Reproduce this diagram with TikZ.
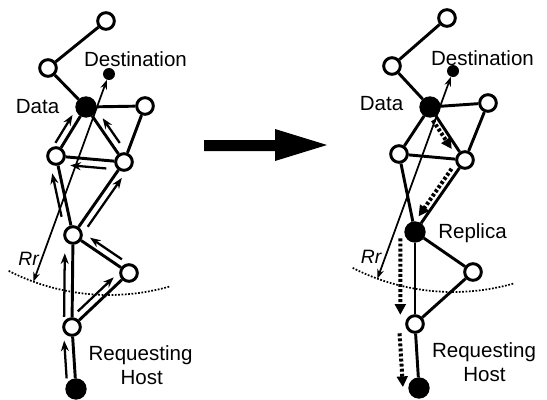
\documentclass[tikz,border=0pt]{standalone}
\usepackage{fontspec}
\setmainfont{Liberation Sans}
\usetikzlibrary{calc,arrows.meta}
\newcommand\flowar[6]{\draw[#6] ($(#1)!#4!(#2)!#3!90:(#2)$) -- ($(#1)!#5!(#2)!#3!90:(#2)$);}
\begin{document}
\begin{tikzpicture}[x=0.75pt,y=-0.75pt,
  onode/.style={circle,draw,line width=2.2pt,fill=white,minimum size=12.5pt,inner sep=0pt},
  fnode/.style={circle,draw,fill=black,line width=1pt,minimum size=15pt,inner sep=0pt},
  dnode/.style={circle,fill=black,minimum size=9pt,inner sep=0pt},
  link/.style={line width=2.2pt},
  flow/.style={line width=1.7pt,-{Stealth[length=8pt,width=6pt]}},
  dflow/.style={line width=3pt,dash pattern=on 2.2pt off 1.6pt,-{Triangle[length=8pt,width=8pt]}},
  rr/.style={line width=1.3pt,{Stealth[length=7pt,width=5pt]}-{Stealth[length=7pt,width=5pt]}},
  rarc/.style={line width=1.3pt,dash pattern=on 1.3pt off 1.2pt},
  lbl/.style={font=\fontsize{15.4}{18}\selectfont,anchor=base,inner sep=0pt},
  ilbl/.style={font=\fontsize{14.5}{16}\selectfont\itshape,anchor=base,inner sep=0pt}
]
\useasboundingbox (0,0) rectangle (547,400);
% ---------- left graph ----------
\node[onode] (T1) at (106,21) {};
\node[onode] (A1) at (48,68) {};
\node[dnode] (D1) at (109,74) {};
\node[fnode] (Da1) at (86,107) {};
\node[onode] (R11) at (145,106) {};
\node[onode] (L21) at (56,156) {};
\node[onode] (R21) at (124,162) {};
\node[onode] (M1) at (73,235) {};
\node[onode] (N1) at (129,273) {};
\node[onode] (B1) at (72,327) {};
\node[fnode] (H1) at (76,389) {};
\foreach \a/\b in {T1/A1,A1/Da1,Da1/R11,Da1/L21,Da1/R21,R11/R21,L21/R21,L21/M1,M1/R21,M1/N1,M1/B1,N1/B1,B1/H1}
  \draw[link] (\a) -- (\b);
\coordinate (rrl) at ($(D1)+(110:221)$);
\draw[rr] (rrl) -- (D1);
\draw[rarc] ($(D1)+(117:221)$) arc[start angle=117, end angle=74, radius=221];
\flowar{L21}{Da1}{5.5pt}{0.19}{0.76}{flow}
\flowar{R21}{Da1}{-5.5pt}{0.27}{0.72}{flow}
\flowar{R21}{L21}{6pt}{0.25}{0.78}{flow}
\flowar{M1}{L21}{5.5pt}{0.25}{0.8}{flow}
\flowar{M1}{R21}{-5.5pt}{0.17}{0.84}{flow}
\flowar{N1}{M1}{-5.5pt}{0.2}{0.77}{flow}
\flowar{B1}{N1}{5.5pt}{0.19}{0.82}{flow}
\flowar{B1}{M1}{6pt}{0.11}{0.8}{flow}
\flowar{H1}{B1}{6.5pt}{0.18}{0.79}{flow}
\node[lbl] (tDest1) at (135.5,66) {Destination};
\node[lbl] (tData1) at (37.5,113) {Data};
\node[ilbl] (tRr1) at (28.5,265) {Rr};
\node[lbl] (tReq1) at (140.5,360) {Requesting};
\node[lbl] (tHost1) at (141.7,384) {Host};
% ---------- big arrow ----------
\fill (204,140) -- (275,140) -- (275,129) -- (327,145) -- (275,161) -- (275,151) -- (204,151) -- cycle;
% ---------- right graph ----------
\node[onode] (T2) at (447,18) {};
\node[onode] (A2) at (392,66) {};
\node[dnode] (D2) at (453,71) {};
\node[fnode] (Da2) at (430,107) {};
\node[onode] (R12) at (488,103) {};
\node[onode] (L22) at (399,154) {};
\node[onode] (R22) at (465,160) {};
\node[fnode] (Rep) at (415,232) {};
\node[onode] (N2) at (473,272) {};
\node[onode] (B2) at (415,324) {};
\node[fnode] (H2) at (419,388) {};
\foreach \a/\b in {T2/A2,A2/Da2,Da2/R12,Da2/L22,Da2/R22,R12/R22,L22/R22,L22/Rep,Rep/R22,Rep/N2,Rep/B2,N2/B2,B2/H2}
  \draw[link] (\a) -- (\b);
\coordinate (rrr) at ($(D2)+(110:221)$);
\draw[rr] (rrr) -- (D2);
\draw[rarc] ($(D2)+(117:221)$) arc[start angle=117, end angle=74, radius=221];
\flowar{Da2}{R22}{-3.75pt}{0.2}{0.74}{dflow}
\flowar{R22}{Rep}{-4.5pt}{0.17}{0.83}{dflow}
\flowar{Rep}{B2}{-11pt}{0.07}{0.9}{dflow}
\flowar{B2}{H2}{-12pt}{0.13}{0.97}{dflow}
\node[lbl] (tDest2) at (482.5,65) {Destination};
\node[lbl] (tData2) at (381.5,110) {Data};
\node[lbl] (tRep) at (472.5,238) {Replica};
\node[ilbl] (tRr2) at (371,263) {Rr};
\node[lbl] (tReq2) at (484,357) {Requesting};
\node[lbl] (tHost2) at (484.5,381) {Host};
\end{tikzpicture}
\end{document}
